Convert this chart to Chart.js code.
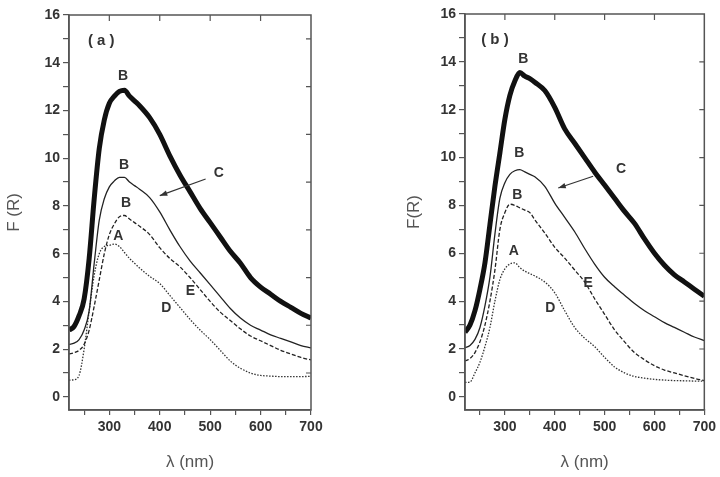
<!DOCTYPE html>
<html>
<head>
<meta charset="utf-8">
<script src="https://cdn.jsdelivr.net/npm/chart.js@4"></script>
<style>
html, body { margin: 0; padding: 0; background: #fff; }
#wrap { position: relative; width: 720px; height: 477px; }
canvas { position: absolute; top: 0; }
</style>
</head>
<body>
<div id="wrap">
  <canvas id="chartA" width="360" height="477" style="left:0px"></canvas>
  <canvas id="chartB" width="360" height="477" style="left:360px"></canvas>
</div>
<script>
// wavelength grid (nm)
const wavelength = [220, 230, 240, 250, 260, 270, 280, 290, 300, 310, 320, 330, 340, 350, 360,
  380, 400, 420, 440, 460, 480, 500, 520, 540, 560, 580, 600, 620, 640, 660, 680, 700];

// panel (a)
const aThick  = [2.8, 2.95, 3.4, 4.1, 5.8, 8.3, 10.4, 11.6, 12.3, 12.6, 12.8, 12.85, 12.6, 12.4, 12.2,
  11.7, 11.0, 10.1, 9.3, 8.6, 7.9, 7.3, 6.7, 6.1, 5.6, 5.0, 4.6, 4.3, 4.0, 3.75, 3.5, 3.3];
const aSolid  = [2.2, 2.25, 2.4, 2.8, 3.6, 5.6, 7.4, 8.3, 8.8, 9.05, 9.2, 9.2, 9.0, 8.85, 8.7,
  8.35, 7.75, 7.0, 6.3, 5.7, 5.2, 4.7, 4.2, 3.7, 3.3, 3.0, 2.8, 2.6, 2.45, 2.3, 2.15, 2.05];
const aDashed = [1.8, 1.85, 1.95, 2.2, 2.8, 3.8, 4.9, 6.0, 6.8, 7.25, 7.55, 7.6, 7.45, 7.3, 7.15,
  6.8, 6.25, 5.8, 5.45, 5.0, 4.5, 4.0, 3.55, 3.2, 2.85, 2.55, 2.35, 2.15, 1.95, 1.8, 1.65, 1.55];
const aDotted = [0.7, 0.72, 0.9, 2.0, 3.6, 5.1, 6.0, 6.3, 6.35, 6.4, 6.3, 6.05, 5.8, 5.6, 5.4,
  5.05, 4.75, 4.25, 3.75, 3.25, 2.8, 2.4, 1.95, 1.5, 1.2, 1.0, 0.9, 0.87, 0.85, 0.85, 0.85, 0.86];

// panel (b)
const bThick  = [2.7, 3.0, 3.6, 4.5, 5.6, 7.2, 8.8, 10.2, 11.6, 12.6, 13.2, 13.55, 13.4, 13.3, 13.15,
  12.8, 12.1, 11.2, 10.6, 10.0, 9.4, 8.85, 8.3, 7.75, 7.25, 6.6, 6.0, 5.5, 5.1, 4.8, 4.5, 4.2];
const bSolid  = [2.05, 2.15, 2.4, 2.9, 3.8, 5.0, 6.8, 8.3, 8.95, 9.3, 9.45, 9.5, 9.4, 9.3, 9.2,
  8.8, 8.1, 7.5, 6.9, 6.2, 5.55, 5.0, 4.6, 4.25, 3.9, 3.6, 3.35, 3.1, 2.9, 2.7, 2.5, 2.35];
const bDashed = [1.5, 1.6, 1.85, 2.3, 3.0, 4.0, 5.3, 7.0, 7.7, 8.05, 8.0, 7.9, 7.8, 7.7, 7.4,
  6.85, 6.25, 5.8, 5.3, 4.8, 4.1, 3.45, 2.8, 2.3, 1.85, 1.55, 1.3, 1.12, 1.0, 0.88, 0.77, 0.68];
const bDotted = [0.6, 0.62, 1.0, 1.45, 2.1, 2.9, 4.0, 4.9, 5.35, 5.55, 5.6, 5.4, 5.25, 5.15, 5.05,
  4.8, 4.35, 3.6, 2.9, 2.45, 2.1, 1.65, 1.25, 1.0, 0.85, 0.78, 0.73, 0.7, 0.68, 0.67, 0.66, 0.66];

// ticks
const xTicks = [250, 300, 350, 400, 450, 500, 550, 600, 650, 700];
const yTicks = [0, 1, 2, 3, 4, 5, 6, 7, 8, 9, 10, 11, 12, 13, 14, 15, 16];
const topTicks = [300, 400, 500, 600];
const rightTicksA = [1, 3, 5, 7, 9, 11, 13, 15];
const rightTicksB = [2, 4, 6, 8, 10, 12, 14];

// curve letters (data coordinates)
const labelsA = [
  { t: '( a )', x: 284, y: 14.9, big: true },
  { t: 'B', x: 327, y: 13.45 }, { t: 'B', x: 329, y: 9.73 }, { t: 'B', x: 333, y: 8.12 },
  { t: 'A', x: 318, y: 6.75 }, { t: 'C', x: 517, y: 9.38 },
  { t: 'E', x: 461, y: 4.44 }, { t: 'D', x: 413, y: 3.71 }
];
const labelsB = [
  { t: '( b )', x: 280, y: 14.93, big: true },
  { t: 'B', x: 337, y: 14.1 }, { t: 'B', x: 329, y: 10.2 }, { t: 'B', x: 325, y: 8.45 },
  { t: 'A', x: 318, y: 6.09 }, { t: 'C', x: 533, y: 9.52 },
  { t: 'E', x: 467, y: 4.77 }, { t: 'D', x: 391, y: 3.69 }
];
const arrowA = { from: [491, 9.13], to: [400, 8.43] };
const arrowB = { from: [477, 9.22], to: [407, 8.73] };

const FONT = "Arial, 'Liberation Sans', sans-serif";
const INK = '#333';

const framePlugin = {
  id: 'frame',
  afterDraw(chart, args, opts) {
    const { ctx, chartArea: a, scales: { x, y } } = chart;
    ctx.save();
    ctx.strokeStyle = '#555';
    ctx.lineWidth = 1.5;
    ctx.strokeRect(a.left, a.top, a.right - a.left, a.bottom - a.top);
    ctx.lineWidth = 1.2;
    ctx.beginPath();
    topTicks.forEach(v => {
      const px = x.getPixelForValue(v);
      ctx.moveTo(px, a.top); ctx.lineTo(px, a.top + 6);
    });
    opts.rightTicks.forEach(v => {
      const py = y.getPixelForValue(v);
      ctx.moveTo(a.right, py); ctx.lineTo(a.right - 5, py);
    });
    ctx.stroke();

    // letters
    ctx.fillStyle = INK;
    ctx.textAlign = 'center';
    ctx.textBaseline = 'middle';
    opts.labels.forEach(l => {
      ctx.font = (l.big ? 'bold 15px ' : 'bold 14px ') + FONT;
      ctx.fillText(l.t, x.getPixelForValue(l.x), y.getPixelForValue(l.y));
    });

    // arrow to curve C
    const x1 = x.getPixelForValue(opts.arrow.from[0]), y1 = y.getPixelForValue(opts.arrow.from[1]);
    const x2 = x.getPixelForValue(opts.arrow.to[0]), y2 = y.getPixelForValue(opts.arrow.to[1]);
    const ang = Math.atan2(y2 - y1, x2 - x1);
    ctx.strokeStyle = INK;
    ctx.lineWidth = 1.2;
    ctx.beginPath();
    ctx.moveTo(x1, y1); ctx.lineTo(x2, y2);
    ctx.stroke();
    ctx.beginPath();
    ctx.moveTo(x2, y2);
    ctx.lineTo(x2 - 8 * Math.cos(ang - 0.35), y2 - 8 * Math.sin(ang - 0.35));
    ctx.lineTo(x2 - 8 * Math.cos(ang + 0.35), y2 - 8 * Math.sin(ang + 0.35));
    ctx.closePath();
    ctx.fill();
    ctx.restore();
  }
};

function series(values) {
  return wavelength.map((w, i) => ({ x: w, y: values[i] }));
}

function createChart(id, s, cfg) {
  const ctx = document.getElementById(id).getContext('2d');
  const base = { pointRadius: 0, fill: false, cubicInterpolationMode: 'monotone' };
  return new Chart(ctx, {
    type: 'line',
    data: {
      datasets: [
        { ...base, data: series(s[0]), borderColor: '#111', borderWidth: 5 },
        { ...base, data: series(s[1]), borderColor: '#222', borderWidth: 1.3 },
        { ...base, data: series(s[2]), borderColor: '#222', borderWidth: 1.3, borderDash: [4, 2] },
        { ...base, data: series(s[3]), borderColor: '#333', borderWidth: 1.3, borderDash: [1.5, 1.5] }
      ]
    },
    options: {
      responsive: false,
      animation: false,
      devicePixelRatio: 1,
      layout: { padding: cfg.padding },
      plugins: {
        legend: { display: false },
        tooltip: { enabled: false },
        frame: { rightTicks: cfg.rightTicks, labels: cfg.labels, arrow: cfg.arrow }
      },
      scales: {
        x: {
          type: 'linear',
          min: 220,
          max: 700,
          afterBuildTicks: sc => { sc.ticks = xTicks.map(v => ({ value: v })); },
          afterFit: sc => { sc.height = 67; },
          ticks: {
            callback: v => (v % 100 === 0 ? v : ''),
            font: { family: FONT, size: 14, weight: 'bold' },
            color: INK,
            maxRotation: 0,
            autoSkip: false,
            padding: 4
          },
          grid: { drawOnChartArea: false, tickLength: 5, color: '#555', lineWidth: 1.2 },
          border: { color: '#555', width: 1.5 },
          title: { display: true, text: 'λ (nm)', font: { family: FONT, size: 17 }, color: '#555' }
        },
        y: {
          min: -0.55,
          max: 16,
          afterBuildTicks: sc => { sc.ticks = yTicks.map(v => ({ value: v })); },
          afterFit: sc => { sc.width = cfg.yWidth; },
          ticks: {
            callback: v => (v % 2 === 0 ? v : ''),
            font: { family: FONT, size: 14, weight: 'bold' },
            color: INK,
            autoSkip: false,
            padding: 3
          },
          grid: { drawOnChartArea: false, tickLength: 6, color: '#555', lineWidth: 1.2 },
          border: { color: '#555', width: 1.5 },
          title: { display: true, text: cfg.yTitle, font: { family: FONT, size: 17 }, color: '#555' }
        }
      }
    },
    plugins: [framePlugin]
  });
}

createChart('chartA', [aThick, aSolid, aDashed, aDotted], {
  padding: { left: 0, right: 49, top: 15, bottom: 0 },
  yWidth: 69, yTitle: 'F (R)', rightTicks: rightTicksA, labels: labelsA, arrow: arrowA
});
createChart('chartB', [bThick, bSolid, bDashed, bDotted], {
  padding: { left: 40, right: 15, top: 14, bottom: 0 },
  yWidth: 65, yTitle: 'F(R)', rightTicks: rightTicksB, labels: labelsB, arrow: arrowB
});
</script>
</body>
</html>
